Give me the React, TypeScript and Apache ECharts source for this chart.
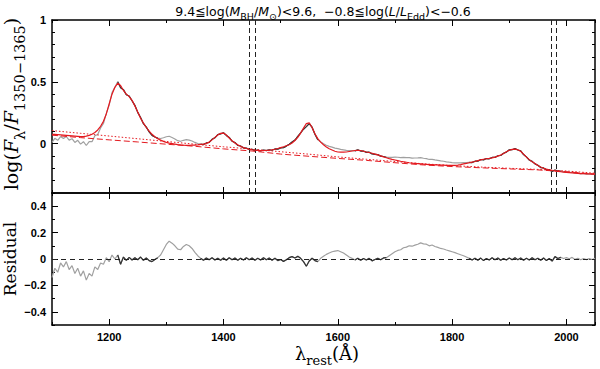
import React, { useEffect, useRef } from "react";
import * as echarts from "echarts";

// ---------------- data ----------------
const WAVE_MIN = 1100;
const WAVE_MAX = 2050;
const WAVE_STEP = 5;

// best-fit model, log(F/F1350-1365), sampled every 5 A from 1100 to 2050
const MODEL = [
  0.075, 0.074, 0.072, 0.070, 0.068, 0.066, 0.064, 0.062, 0.060, 0.058,
  0.056, 0.056, 0.060, 0.066, 0.076, 0.090, 0.110, 0.140, 0.180, 0.240,
  0.320, 0.400, 0.455, 0.488, 0.470, 0.430, 0.400, 0.380, 0.350, 0.305,
  0.255, 0.205, 0.165, 0.130, 0.100, 0.075, 0.055, 0.040, 0.028, 0.018,
  0.010, 0.004, 0.000, -0.004, -0.008, -0.011, -0.013, -0.014, -0.014, -0.013,
  -0.012, -0.010, -0.007, -0.004, 0.002, 0.012, 0.030, 0.050, 0.070, 0.083,
  0.085, 0.070, 0.045, 0.022, 0.005, -0.010, -0.022, -0.032, -0.040, -0.046,
  -0.050, -0.053, -0.055, -0.056, -0.056, -0.055, -0.053, -0.050, -0.046, -0.040,
  -0.033, -0.026, -0.018, -0.010, 0.005, 0.025, 0.050, 0.085, 0.125, 0.162,
  0.168, 0.130, 0.080, 0.040, 0.012, -0.010, -0.028, -0.042, -0.052, -0.062,
  -0.068, -0.070, -0.070, -0.068, -0.064, -0.060, -0.056, -0.054, -0.056, -0.062,
  -0.068, -0.072, -0.078, -0.085, -0.092, -0.100, -0.108, -0.115, -0.122, -0.128,
  -0.133, -0.138, -0.143, -0.147, -0.151, -0.155, -0.158, -0.160, -0.162, -0.164,
  -0.166, -0.168, -0.170, -0.171, -0.172, -0.173, -0.174, -0.175, -0.176, -0.177,
  -0.177, -0.176, -0.174, -0.170, -0.165, -0.160, -0.155, -0.150, -0.145, -0.138,
  -0.132, -0.127, -0.123, -0.120, -0.116, -0.110, -0.102, -0.092, -0.080, -0.066,
  -0.054, -0.047, -0.045, -0.050, -0.062, -0.085, -0.110, -0.130, -0.148, -0.162,
  -0.178, -0.190, -0.200, -0.207, -0.213, -0.218, -0.222, -0.225, -0.228, -0.231,
  -0.233, -0.235, -0.237, -0.239, -0.241, -0.243, -0.244, -0.245, -0.246, -0.247,
  -0.248,
];

// residual (F_obs / F_model - 1), same wavelength grid
const RESIDUAL = [
  -0.14, -0.07, -0.10, -0.03, -0.06, -0.02, -0.08, -0.05, -0.11, -0.07,
  -0.13, -0.09, -0.16, -0.11, -0.13, -0.06, -0.08, -0.03, -0.04, 0.01,
  -0.02, 0.03, 0.00, 0.03, -0.04, 0.015, -0.01, 0.012, -0.008, 0.01,
  -0.006, 0.015, -0.01, 0.008, -0.012, -0.02, -0.004, 0.01, 0.03, 0.07,
  0.11, 0.135, 0.12, 0.10, 0.075, 0.07, 0.095, 0.11, 0.10, 0.08,
  0.05, 0.025, 0.005, -0.01, 0.008, -0.006, 0.01, -0.008, 0.006, -0.01,
  0.007, -0.009, 0.01, -0.006, 0.008, -0.01, 0.006, -0.008, 0.009, -0.005,
  0.008, -0.01, 0.005, -0.007, 0.01, -0.006, 0.007, -0.009, 0.006, -0.012,
  -0.004, -0.018, -0.006, 0.01, 0.018, 0.008, 0.02, 0.005, -0.02, -0.055,
  -0.015, 0.006, -0.012, -0.02, 0.005, 0.02, 0.035, 0.045, 0.055, 0.06,
  0.064, 0.055, 0.045, 0.03, 0.015, 0.005, -0.008, 0.006, -0.01, 0.004,
  -0.008, 0.005, -0.014, -0.004, 0.006, -0.005, 0.008, 0.01, 0.025, 0.04,
  0.055, 0.065, 0.07, 0.085, 0.09, 0.1, 0.097, 0.105, 0.112, 0.122,
  0.115, 0.112, 0.1, 0.106, 0.095, 0.088, 0.08, 0.076, 0.068, 0.062,
  0.055, 0.048, 0.04, 0.032, 0.025, 0.015, 0.005, -0.008, 0.006, -0.01,
  0.007, -0.012, 0.004, -0.008, 0.009, -0.005, 0.008, -0.01, 0.004, -0.007,
  0.008, -0.006, 0.01, -0.005, 0.007, -0.009, 0.005, -0.007, 0.009, -0.006,
  0.006, -0.009, 0.007, -0.011, 0.004, -0.016, 0.018, 0.004, 0.012, 0.004,
  0.01, 0.002, 0.012, -0.003, 0.006, -0.006, 0.004, -0.005, 0.003, -0.004,
  0.005,
];

// wavelength windows used in the fit (drawn dark), others masked (grey)
const FIT_WINDOWS = [
  [1215, 1285],
  [1360, 1565],
  [1630, 1685],
  [1830, 1990],
];

// continuum components
const CONT_WAVE = [1100, 1150, 1200, 1250, 1300, 1350, 1400, 1450, 1500, 1550, 1600, 1650, 1700, 1750, 1800, 1850, 1900, 1950, 2000, 2050];
const CONT_DASHED = [0.068, 0.048, 0.030, 0.013, -0.005, -0.022, -0.043, -0.060, -0.085, -0.103, -0.120, -0.136, -0.155, -0.173, -0.186, -0.196, -0.205, -0.213, -0.228, -0.247];
const CONT_DOTTED = [0.105, 0.083, 0.061, 0.039, 0.017, -0.005, -0.026, -0.045, -0.066, -0.086, -0.108, -0.127, -0.145, -0.164, -0.178, -0.190, -0.200, -0.209, -0.222, -0.240];

// continuum windows marked by vertical dashed lines
const CONT_WINDOWS = [1445, 1455, 1973, 1983];

const X_MAJOR = [1200, 1400, 1600, 1800, 2000];
const TOP_Y_MAJOR = [0, 0.5, 1];
const RES_Y_MAJOR = [-0.4, -0.2, 0, 0.2, 0.4];

// ---------------- helpers ----------------
const RED = "#e3191f";
const GREY = "#a0a0a0";
const DARK = "#333333";
const TICK_FONT = {
  fontFamily: "Liberation Sans",
  fontWeight: "bold" as const,
  fontSize: 11,
  color: "#000",
};

const fmtY = (v: number) => {
  const s = String(Math.round(v * 10) / 10);
  return s.replace("-", "\u2212");
};
const fmtX = (v: number) => String(Math.round(v));

function xAxes(gridIndex: number, position: "top" | "bottom", labels: boolean) {
  const base = {
    type: "value" as const,
    gridIndex,
    position,
    min: WAVE_MIN,
    max: WAVE_MAX,
    splitLine: { show: false },
  };
  return [
    {
      ...base,
      interval: 100,
      axisLine: { show: true, onZero: false, lineStyle: { color: "#000", width: 1.5 } },
      axisTick: { show: true, inside: true, length: 3, lineStyle: { color: "#000", width: 1 } },
      axisLabel: { show: false },
    },
    {
      ...base,
      interval: 100,
      axisLine: { show: false, onZero: false },
      axisTick: {
        show: true,
        inside: true,
        length: 6,
        customValues: X_MAJOR,
        lineStyle: { color: "#000", width: 1 },
      },
      axisLabel: labels
        ? { show: true, customValues: X_MAJOR, margin: 6, formatter: fmtX, ...TICK_FONT }
        : { show: false },
    },
  ];
}

function yAxes(
  gridIndex: number,
  position: "left" | "right",
  min: number,
  max: number,
  major: number[],
  labels: boolean
) {
  const base = {
    type: "value" as const,
    gridIndex,
    position,
    min,
    max,
    splitLine: { show: false },
  };
  return [
    {
      ...base,
      interval: 0.1,
      axisLine: { show: true, onZero: false, lineStyle: { color: "#000", width: 1.5 } },
      axisTick: { show: true, inside: true, length: 3, lineStyle: { color: "#000", width: 1 } },
      axisLabel: { show: false },
    },
    {
      ...base,
      interval: 0.1,
      axisLine: { show: false, onZero: false },
      axisTick: {
        show: true,
        inside: true,
        length: 6,
        customValues: major,
        lineStyle: { color: "#000", width: 1 },
      },
      axisLabel: labels
        ? { show: true, customValues: major, margin: 6, formatter: fmtY, ...TICK_FONT }
        : { show: false },
    },
  ];
}

export default function App() {
  const ref = useRef<HTMLDivElement>(null);

  useEffect(() => {
    if (!ref.current) return;
    const chart = echarts.init(ref.current, undefined, { renderer: "svg" });

    const wave = MODEL.map((_, i) => WAVE_MIN + i * WAVE_STEP);
    const inFit = (w: number) => FIT_WINDOWS.some(([a, b]) => w >= a && w <= b);
    const spec = wave.map((w, i) => [w, MODEL[i] + Math.log10(1 + RESIDUAL[i])]);
    const specFit = spec.map(([w, v]) => [w, inFit(w) ? v : null]);
    const model = wave.map((w, i) => [w, MODEL[i]]);
    const resid = wave.map((w, i) => [w, RESIDUAL[i]]);
    const residFit = resid.map(([w, v]) => [w, inFit(w) ? v : null]);
    const dashed = CONT_WAVE.map((w, i) => [w, CONT_DASHED[i]]);
    const dotted = CONT_WAVE.map((w, i) => [w, CONT_DOTTED[i]]);

    const line = (data: any[], color: string, width: number, xi: number, yi: number, type: any = "solid", z = 2) => ({
      type: "line",
      data,
      xAxisIndex: xi,
      yAxisIndex: yi,
      showSymbol: false,
      symbol: "none",
      silent: true,
      connectNulls: false,
      z,
      lineStyle: { color, width, type },
    });

    const option: any = {
      animation: false,
      backgroundColor: "#fff",
      grid: [
        { left: 52, right: 5, top: 20, height: 173, outerBoundsMode: "none" },
        { left: 52, right: 5, top: 193, height: 132, outerBoundsMode: "none" },
      ],
      xAxis: [
        ...xAxes(0, "bottom", false),
        ...xAxes(0, "top", false),
        ...xAxes(1, "bottom", true),
        ...xAxes(1, "top", false),
      ],
      yAxis: [
        ...yAxes(0, "left", -0.4, 1, TOP_Y_MAJOR, true),
        ...yAxes(0, "right", -0.4, 1, TOP_Y_MAJOR, false),
        ...yAxes(1, "left", -0.5, 0.5, RES_Y_MAJOR, true),
        ...yAxes(1, "right", -0.5, 0.5, RES_Y_MAJOR, false),
      ],
      series: [
        {
          ...line(spec, GREY, 1.2, 0, 0, "solid", 2),
          markLine: {
            silent: true,
            symbol: "none",
            label: { show: false },
            lineStyle: { color: "#222", width: 1, type: [5, 3] },
            data: CONT_WINDOWS.map((w) => ({ xAxis: w })),
          },
        },
        line(specFit, DARK, 1.2, 0, 0, "solid", 3),
        line(dashed, RED, 1, 0, 0, [6, 3], 4),
        line(dotted, RED, 1, 0, 0, [1.5, 2], 4),
        line(model, RED, 1.2, 0, 0, "solid", 5),
        {
          ...line(resid, GREY, 1.2, 4, 4, "solid", 2),
          markLine: {
            silent: true,
            symbol: "none",
            label: { show: false },
            lineStyle: { color: "#222", width: 1, type: [5, 4] },
            data: [{ yAxis: 0 }],
          },
        },
        line(residFit, DARK, 1.2, 4, 4, "solid", 3),
      ],
      graphic: [
        {
          type: "text",
          x: 323,
          y: 11,
          silent: true,
          style: {
            text:
              "{n|9.4\u2266log(}{i|M}{s|BH}{n|/}{i|M}{s|\u2299}{n|)<9.6,  \u22120.8\u2266log(}{i|L}{n|/}{i|L}{s|Edd}{n|)<\u22120.6}",
            align: "center",
            verticalAlign: "middle",
            rich: {
              n: { fontFamily: "DejaVu Sans", fontSize: 12.5, lineHeight: 20, fill: "#000" },
              i: { fontFamily: "DejaVu Sans", fontStyle: "italic", fontSize: 12.5, lineHeight: 20, fill: "#000" },
              s: { fontFamily: "DejaVu Sans", fontSize: 9.5, lineHeight: 10, verticalAlign: "bottom", fill: "#000" },
            },
          },
        },
        {
          type: "text",
          x: 10.5,
          y: 104,
          rotation: Math.PI / 2,
          silent: true,
          style: {
            text: "{m|log(}{i|F}{s|\u03bb}{m|/}{i|F}{s|1350\u22121365}{m|)}",
            align: "center",
            verticalAlign: "middle",
            rich: {
              m: { fontFamily: "DejaVu Serif", fontSize: 19, lineHeight: 34, fill: "#000" },
              i: { fontFamily: "DejaVu Serif", fontStyle: "italic", fontSize: 19, lineHeight: 34, fill: "#000" },
              s: { fontFamily: "DejaVu Serif", fontSize: 14.5, lineHeight: 15, verticalAlign: "bottom", fill: "#000" },
            },
          },
        },
        {
          type: "text",
          x: 9.5,
          y: 259,
          rotation: Math.PI / 2,
          silent: true,
          style: {
            text: "Residual",
            fontFamily: "DejaVu Serif",
            fontSize: 17,
            fill: "#000",
            align: "center",
            verticalAlign: "middle",
          },
        },
        {
          type: "text",
          x: 327,
          y: 353,
          silent: true,
          style: {
            text: "{m|\u03bb}{s|rest}{m|(\u00c5)}",
            align: "center",
            verticalAlign: "middle",
            rich: {
              m: { fontFamily: "DejaVu Serif", fontSize: 18, lineHeight: 28, fill: "#000" },
              s: { fontFamily: "DejaVu Serif", fontSize: 13, lineHeight: 13, verticalAlign: "bottom", fill: "#000" },
            },
          },
        },
      ],
    };

    chart.setOption(option);
    return () => chart.dispose();
  }, []);

  return (
    <div
      ref={ref}
      style={{ position: "fixed", left: 0, top: 0, width: 600, height: 369, background: "#fff" }}
    />
  );
}
